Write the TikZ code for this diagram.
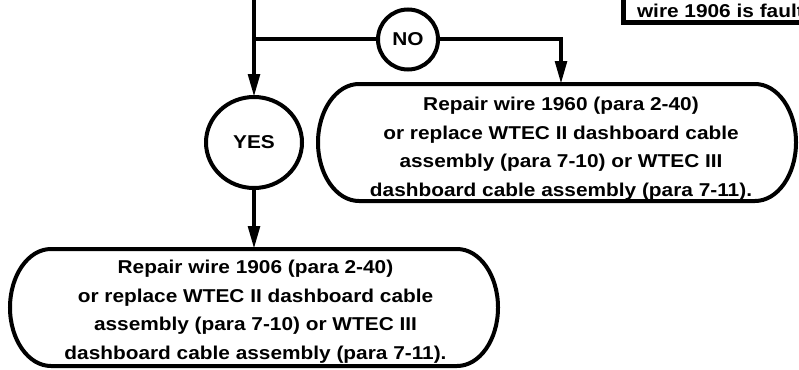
\documentclass[tikz,border=0pt]{standalone}
\usepackage{fontspec}
\setmainfont{Liberation Sans}[FakeStretch=1.12]
\usetikzlibrary{arrows.meta,shapes.geometric}
\begin{document}
\begin{tikzpicture}[x=1pt,y=1pt,
  lw/.style={line width=4pt},
  arr/.style={lw,-{Triangle[length=23pt,width=11.5pt]}},
  lbl/.style={font=\bfseries\fontsize{18.6}{28.6}\selectfont,inner sep=0pt,outer sep=0pt},
  txt/.style={lbl,align=center},
  boxnode/.style={rectangle,inner sep=0pt,outer sep=0pt,draw=none},
  decision/.style={lw,draw,ellipse,inner sep=0pt,outer sep=0pt,font=\bfseries\fontsize{18.6}{22}\selectfont}
]
\useasboundingbox (0,0) rectangle (799,-369);
\clip (0,0) rectangle (799,-369);

% top-right box (cut off)
\node[boxnode,draw,line width=5pt,minimum width=240pt,minimum height=80pt,anchor=south west] (tbox) at (623,-23) {};
\node[lbl,anchor=base west] (ttxt) at (637,-17.5) {wire 1906 is fault};

% decisions
\node[decision,minimum width=60pt,minimum height=60pt] (no) at (408,-39.5) {NO};
\node[decision,minimum width=96pt,minimum height=91pt] (yes) at (254,-142.5) {YES};

% right box
\node[boxnode,minimum width=478pt,minimum height=117pt] (rbox) at (557,-142.5) {};
\draw[lw] ([xshift=41pt]rbox.north west) -- ([xshift=-41pt]rbox.north east)
  arc[start angle=90,end angle=-90,x radius=41pt,y radius=58.5pt]
  -- ([xshift=41pt]rbox.south west)
  arc[start angle=270,end angle=90,x radius=41pt,y radius=58.5pt] -- cycle;
\node[txt] (rtxt) at (561,-148.8) {Repair wire 1960 (para 2-40)\\or replace WTEC II dashboard cable\\assembly (para 7-10) or WTEC III\\dashboard cable assembly (para 7-11).};

% left box
\node[boxnode,minimum width=488pt,minimum height=117pt] (lbox) at (254,-307.5) {};
\draw[lw] ([xshift=41pt]lbox.north west) -- ([xshift=-41pt]lbox.north east)
  arc[start angle=90,end angle=-90,x radius=41pt,y radius=58.5pt]
  -- ([xshift=41pt]lbox.south west)
  arc[start angle=270,end angle=90,x radius=41pt,y radius=58.5pt] -- cycle;
\node[txt] (ltxt) at (255.5,-311.7) {Repair wire 1906 (para 2-40)\\or replace WTEC II dashboard cable\\assembly (para 7-10) or WTEC III\\dashboard cable assembly (para 7-11).};

% connectors
\coordinate (top) at (254,5);
\coordinate (j) at (254,-39.5);
\coordinate (nr) at (561,-39.5);
\draw[arr] (top) -- (yes.north);
\draw[lw] (j) -- (no.west);
\draw[lw] (no.east) -- ([xshift=2pt]nr);
\draw[arr] (nr) -- (nr |- rbox.north);
\draw[arr] (yes.south) -- (yes.south |- lbox.north);
\end{tikzpicture}
\end{document}
